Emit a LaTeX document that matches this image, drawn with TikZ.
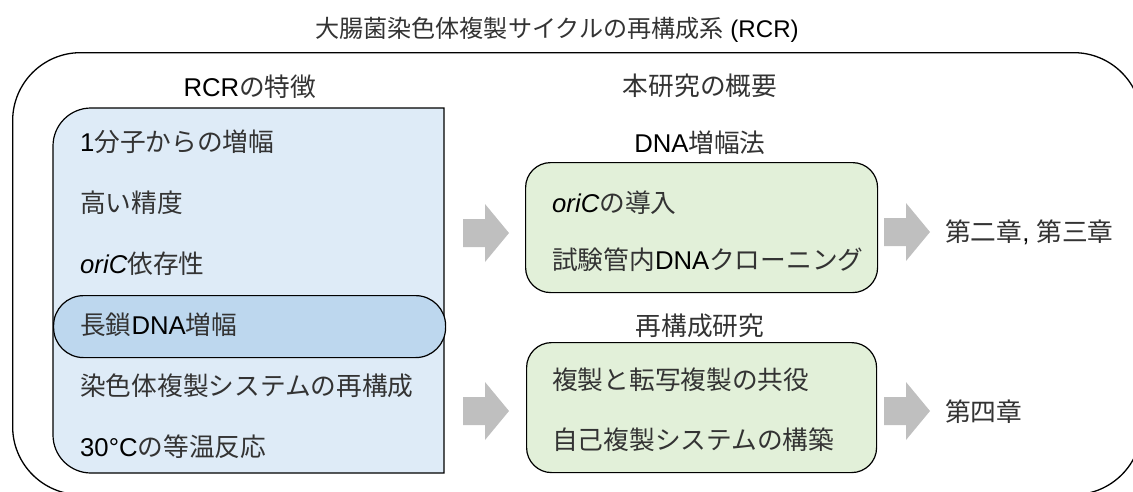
\documentclass[tikz,border=0pt]{standalone}
\usepackage{fontspec}
\setmainfont{Liberation Sans}
\newfontfamily\cjk{Noto Sans CJK JP}
\definecolor{bluefill}{HTML}{DEEBF7}
\definecolor{bluehi}{HTML}{BDD7EE}
\definecolor{greenfill}{HTML}{E2F0D9}
\definecolor{arrowgray}{HTML}{BFBFBF}
\definecolor{cjkgray}{HTML}{333333}
\newcommand\J[1]{{\cjk\color{cjkgray}#1}}
\tikzset{
  txt/.style={inner sep=0pt, anchor=west},
  ctxt/.style={inner sep=0pt},
  boxline/.style={draw=black, line width=1.2pt},
  greenbox/.style={boxline, fill=greenfill, rounded corners=25pt, inner sep=0pt, anchor=north west},
  pics/blockarrow/.style={code={
    \fill[arrowgray] (0,-14) -- (22,-14) -- (22,-29) -- (46,0) -- (22,29) -- (22,14) -- (0,14) -- cycle;
  }}
}
\begin{document}
\begin{tikzpicture}[x=1pt,y=-1pt,font=\fontsize{25.7}{30}\selectfont]
\useasboundingbox (0,0) rectangle (1133,491);
\clip (0,0) rectangle (1133,491);
% outer frame
\node[draw=black, line width=1.3pt, rounded corners=68pt, minimum width=1129pt, minimum height=442pt, inner sep=0pt, anchor=north west] (outer) at (12,52) {};
\node[ctxt, font=\fontsize{24.1}{28}\selectfont] (title) at (557,30) {\J{大腸菌染色体複製サイクルの再構成系} (RCR)};
% left panel
\node[ctxt] (rcrhead) at (250,87) {RCR\J{の特徴}};
\path[boxline, fill=bluefill] (444,108) -- (91,108) .. controls (70,108) and (53,125) .. (53,146) -- (53,435) .. controls (53,456) and (70,473) .. (91,473) -- (444,473) -- cycle;
\node[boxline, fill=bluehi, rounded corners=30pt, minimum width=392pt, minimum height=62pt, inner sep=0pt, anchor=north west] (hi) at (53,295) {};
\node[txt] (f1) at (80,142) {1\J{分子からの増幅}};
\node[txt] (f2) at (80,203) {\J{高い精度}};
\node[txt] (f3) at (80,264) {\textit{oriC}\J{依存性}};
\node[txt] (f4) at (80,325) {\J{長鎖}DNA\J{増幅}};
\node[txt] (f5) at (80,386) {\J{染色体複製システムの再構成}};
\node[txt] (f6) at (80,447) {30°C\J{の等温反応}};
% right panel
\node[ctxt] (gaiyo) at (700,86) {\J{本研究の概要}};
\node[ctxt] (dnahead) at (700,143) {DNA\J{増幅法}};
\node[greenbox, minimum width=352pt, minimum height=130pt] (g1) at (525,162) {};
\node[txt] (g1a) at (552,203) {\textit{oriC}\J{の導入}};
\node[txt] (g1b) at (552,260) {\J{試験管内}DNA\J{クローニング}};
\node[ctxt] (saihead) at (700,326) {\J{再構成研究}};
\node[greenbox, minimum width=350pt, minimum height=130pt] (g2) at (526,342) {};
\node[txt] (g2a) at (552,380) {\J{複製と転写複製の共役}};
\node[txt] (g2b) at (552,440) {\J{自己複製システムの構築}};
% arrows
\pic at (463,233) {blockarrow};
\pic at (463,411) {blockarrow};
\pic at (884,232) {blockarrow};
\pic at (884,411) {blockarrow};
\node[txt] (ch23) at (945,232) {\J{第二章}, \J{第三章}};
\node[txt] (ch4) at (945,412) {\J{第四章}};
\end{tikzpicture}
\end{document}
